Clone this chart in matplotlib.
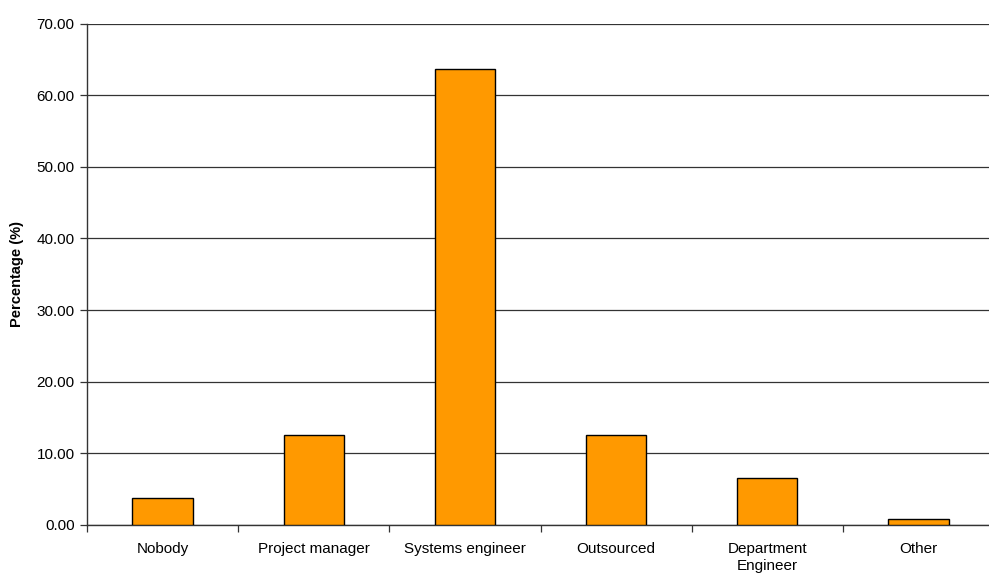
import matplotlib
matplotlib.use("Agg")
import matplotlib.pyplot as plt
import numpy as np

plt.rcParams['font.family'] = ['Liberation Sans', 'DejaVu Sans']

categories = ["Nobody", "Project manager", "Systems engineer", "Outsourced",
              "Department\nEngineer", "Other"]
percentages = [3.7, 12.5, 63.7, 12.5, 6.6, 0.9]
y_ticks = [0, 10, 20, 30, 40, 50, 60, 70]

fig = plt.figure(figsize=(9.89, 5.74), dpi=100)
ax = fig.add_axes([87 / 989, 49 / 574, (994 - 87) / 989, (525 - 23.5) / 574])

x = np.arange(len(categories))
ax.bar(x, percentages, width=0.4, color="#FF9900", edgecolor="black",
       linewidth=1.0, zorder=3)

ax.set_xlim(-0.5, len(categories) - 0.5)
ax.set_ylim(0, 70)
ax.set_yticks(y_ticks)
ax.set_yticklabels([f"{v:.2f}" for v in y_ticks], fontsize=11)
ax.yaxis.grid(True, color="#333333", linewidth=0.9, zorder=0)

# category labels centred under bars, tick marks between categories
ax.set_xticks(x)
ax.set_xticklabels(categories, fontsize=11, linespacing=1.3)
ax.tick_params(axis="x", length=0, pad=12)
ax.set_xticks(np.arange(-0.5, len(categories) + 0.5, 1), minor=True)
ax.tick_params(axis="x", which="minor", length=5, width=0.9, direction="out",
               colors="#333333")
ax.tick_params(axis="y", length=5, width=0.9, direction="out", colors="#333333",
               labelcolor="black", pad=4)

for side in ("top", "right"):
    ax.spines[side].set_visible(False)
for side in ("left", "bottom"):
    ax.spines[side].set_color("#333333")
    ax.spines[side].set_linewidth(1.0)

ax.set_ylabel("Percentage (%)", fontsize=10.5, fontweight="bold", labelpad=9)

fig.savefig("out.png", dpi=100)
